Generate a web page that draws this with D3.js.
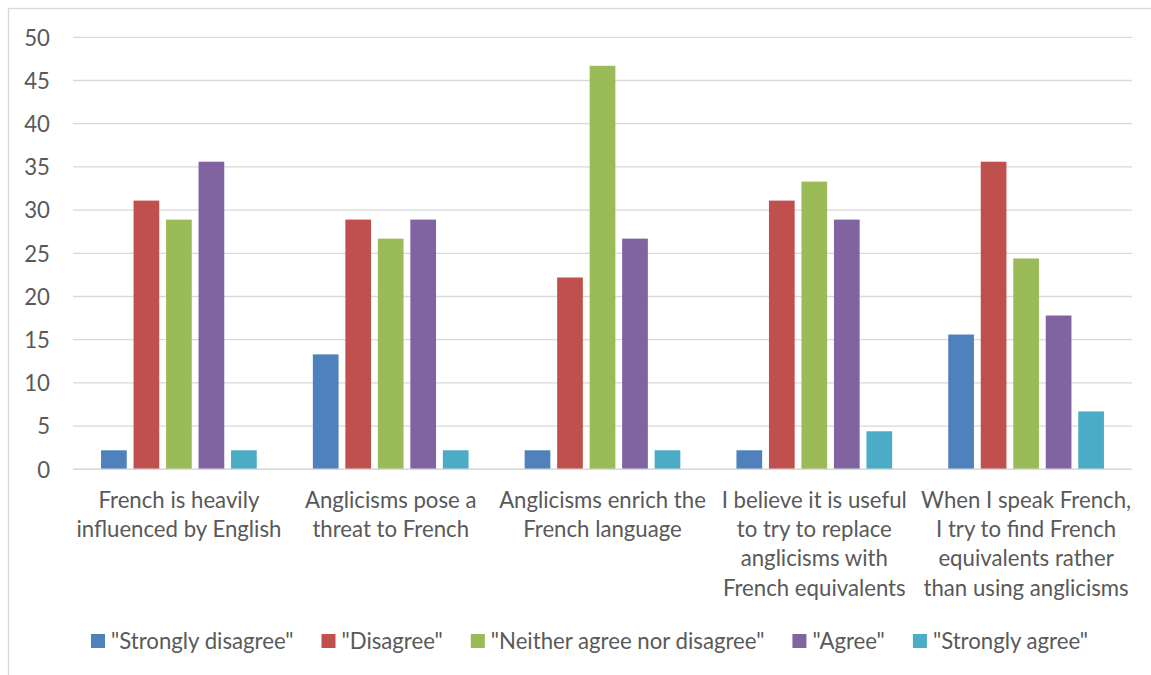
<!DOCTYPE html>
<html>
<head>
<meta charset="utf-8">
<script src="https://cdn.jsdelivr.net/npm/d3@7"></script>
<style>
  html, body { margin: 0; padding: 0; background: #fff; }
  svg { display: block; }
  text { font-family: Lato, "Open Sans", sans-serif; fill: #595959; }
</style>
</head>
<body>
<svg id="chart" width="1151" height="675"></svg>
<script>
// ---- Data ----
const categories = [
  "French is heavily influenced by English",
  "Anglicisms pose a threat to French",
  "Anglicisms enrich the French language",
  "I believe it is useful to try to replace anglicisms with French equivalents",
  "When I speak French, I try to find French equivalents rather than using anglicisms"
];
const categoryLines = [
  ["French is heavily", "influenced by English"],
  ["Anglicisms pose a", "threat to French"],
  ["Anglicisms enrich the", "French language"],
  ["I believe it is useful", "to try to replace", "anglicisms with", "French equivalents"],
  ["When I speak French,", "I try to find French", "equivalents rather", "than using anglicisms"]
];
const seriesNames = ["\"Strongly disagree\"", "\"Disagree\"", "\"Neither agree nor disagree\"", "\"Agree\"", "\"Strongly agree\""];
const stronglyDisagree = [2.2, 13.3, 2.2, 2.2, 15.6];
const disagree         = [31.1, 28.9, 22.2, 31.1, 35.6];
const neither          = [28.9, 26.7, 46.7, 33.3, 24.4];
const agree            = [35.6, 28.9, 26.7, 28.9, 17.8];
const stronglyAgree    = [2.2, 2.2, 2.2, 4.4, 6.7];
const seriesValues = [stronglyDisagree, disagree, neither, agree, stronglyAgree];
const seriesColors = ["#4F81BD", "#C0504D", "#9BBB59", "#8064A2", "#4BACC6"];
const yTicks = [0, 5, 10, 15, 20, 25, 30, 35, 40, 45, 50];

// ---- Layout ----
const svg = d3.select("#chart");
const plot = { left: 73, right: 1132, top: 37.3, bottom: 469.3 };

// fit substitute font to Calibri-like widths
const probe = svg.append("text").attr("font-size", 24).text("influenced by English");
const w24 = probe.node().getComputedTextLength();
probe.remove();
const fs = Math.min(24, 24 * 205 / w24);

// outer border
svg.append("rect")
  .attr("x", 8.5).attr("y", 8.5).attr("width", 1160).attr("height", 700)
  .attr("fill", "none").attr("stroke", "#d9d9d9").attr("stroke-width", 1.3);

const y = d3.scaleLinear().domain([0, 50]).range([plot.bottom, plot.top]);
const x0 = d3.scaleBand().domain(categories).range([plot.left, plot.right]).paddingInner(0).paddingOuter(0);
const x1 = d3.scaleBand().domain(seriesNames).range([0, x0.bandwidth()]).paddingInner(0.209).paddingOuter(0.863);

// gridlines
svg.append("g").selectAll("line").data(yTicks).join("line")
  .attr("x1", plot.left).attr("x2", plot.right)
  .attr("y1", d => y(d)).attr("y2", d => y(d))
  .attr("stroke", "#d9d9d9").attr("stroke-width", 1.3);

// y axis labels via d3 axis
const yAxis = d3.axisLeft(y).tickValues(yTicks).tickSize(0).tickPadding(0);
const yg = svg.append("g").attr("transform", `translate(50,0)`).call(yAxis);
yg.select(".domain").remove();
yg.selectAll("text").attr("font-size", fs).attr("fill", "#595959")
  .style("font-family", "Lato, 'Open Sans', sans-serif").attr("dy", "0.35em");

// bars
const groups = svg.append("g").selectAll("g").data(categories).join("g")
  .attr("transform", d => `translate(${x0(d)},0)`);
groups.selectAll("rect")
  .data((d, i) => seriesNames.map((s, j) => ({ s, j, v: seriesValues[j][i] })))
  .join("rect")
  .attr("x", d => x1(d.s))
  .attr("width", x1.bandwidth())
  .attr("y", d => y(d.v))
  .attr("height", d => y(0) - y(d.v))
  .attr("fill", d => seriesColors[d.j]);

// baseline (axis)
svg.append("line")
  .attr("x1", plot.left).attr("x2", plot.right)
  .attr("y1", y(0)).attr("y2", y(0))
  .attr("stroke", "#d9d9d9").attr("stroke-width", 1.5);

// category labels
const lineH = 29.3;
categories.forEach((c, i) => {
  const cx = x0(c) + x0.bandwidth() / 2;
  const t = svg.append("text").attr("text-anchor", "middle").attr("font-size", fs);
  categoryLines[i].forEach((ln, k) => {
    t.append("tspan").attr("x", cx).attr("y", 500 + k * lineH).attr("dy", "0.35em").text(ln);
  });
});

// legend: spans from x=91 to x=1088 like the reference
const leg = svg.append("g").attr("transform", "translate(91,641)");
const legItems = seriesNames.map((s, j) => {
  const g = leg.append("g");
  g.append("rect").attr("x", 0).attr("y", -7).attr("width", 14).attr("height", 14).attr("fill", seriesColors[j]);
  const t = g.append("text").attr("x", 20).attr("y", 0).attr("dy", "0.35em").attr("font-size", fs).text(s);
  return { g, w: 20 + t.node().getComputedTextLength() };
});
const sumW = d3.sum(legItems, d => d.w);
const gap = (1088 - 91 - sumW) / (legItems.length - 1);
let lx = 0;
legItems.forEach(it => { it.g.attr("transform", `translate(${lx},0)`); lx += it.w + gap; });
</script>
</body>
</html>
